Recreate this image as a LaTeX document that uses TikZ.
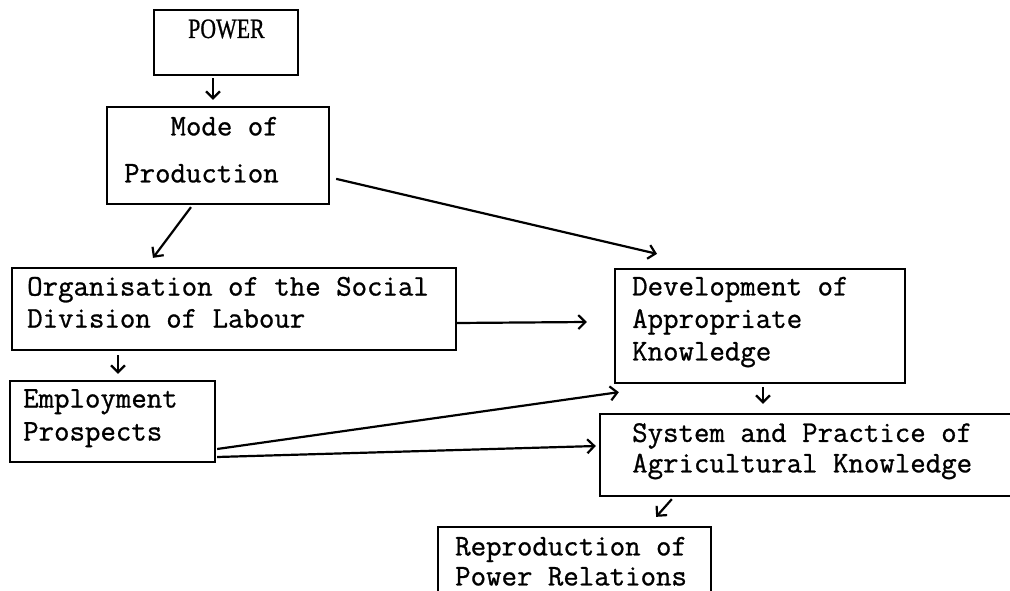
\documentclass[tikz,border=0pt]{standalone}
\usepackage{fontspec}
\newfontfamily\powerfont{Liberation Serif}[FakeBold=0.8]
\newfontfamily\tw{Latin Modern Mono}[FakeBold=0.9]
\usetikzlibrary{arrows.meta,calc}
\begin{document}
\begin{tikzpicture}[x=1pt,y=-1pt,
  box/.style={draw,line width=2.3pt,inner sep=0pt,minimum width=#1},
  txt/.style={inner sep=0pt,anchor=north west,align=left},
  conn/.style={line width=2.2pt,-{Straight Barb[length=7pt,width=14pt,line width=2.2pt]}}]
\useasboundingbox (0,0) rectangle (1010,591);
\clip (0,0) rectangle (1010,591);
% boxes
\node[box=144pt,minimum height=65pt] (power) at (226,42.5) {};
\node[box=222pt,minimum height=97pt] (mode) at (218,155.5) {};
\node[box=444pt,minimum height=82pt] (org) at (234,309) {};
\node[box=205pt,minimum height=81pt] (emp) at (112.5,421.5) {};
\node[box=290pt,minimum height=114pt] (dev) at (760,326) {};
\node[box=420pt,minimum height=82pt] (sys) at (810,455) {};
\node[box=273pt,minimum height=73pt] (repro) at (574.5,563.5) {};
% texts
\node[inner sep=0pt,anchor=base west,font=\fontsize{28}{30}\selectfont\powerfont] (powertxt) at (188,38) {\scalebox{0.78}[1]{POWER}};
\node[txt,align=right,font=\fontsize{30}{47}\selectfont\tw] (modetxt) at (124,116.7) {Mode of\\Production};
\node[txt,font=\fontsize{30}{32}\selectfont\tw] (orgtxt) at (27,276.7) {Organisation of the Social\\Division of Labour};
\node[txt,font=\fontsize{30}{33}\selectfont\tw] (emptxt) at (23,389) {Employment\\Prospects};
\node[txt,font=\fontsize{30}{32.5}\selectfont\tw] (devtxt) at (632,276.7) {Development of\\Appropriate\\Knowledge};
\node[txt,font=\fontsize{30}{30.5}\selectfont\tw] (systxt) at (632,423) {System and Practice of\\Agricultural Knowledge};
\node[txt,font=\fontsize{30}{30}\selectfont\tw] (reprotxt) at (455,536.7) {Reproduction of\\Power Relations};
% connectors
\draw[conn] ($(power.south)+(-13,2)$) -- ($(mode.north)+(-5,-6)$);
\draw[conn] ($(mode.south)+(-27,2)$) -- ($(org.north)+(-81,-9)$);
\draw[conn] ($(mode.north east)+(6,73)$) -- ($(dev.north)+(-103,-14)$);
\draw[conn] ($(org.east)+(0,14)$) -- ($(dev.west)+(-27,-4)$);
\draw[conn] ($(org.south)+(-116,4)$) -- ($(emp.north)+(5.5,-6)$);
\draw[conn] ($(emp.east)+(1,27.5)$) -- ($(dev.south west)+(5,8)$);
\draw[conn] ($(emp.east)+(1,35.5)$) -- ($(sys.west)+(-3,-9)$);
\draw[conn] ($(dev.south)+(3,3)$) -- ($(sys.north)+(-47,-9)$);
\draw[conn] ($(sys.south west)+(73,2)$) -- ($(repro.north east)+(-56,-9)$);
\end{tikzpicture}
\end{document}
